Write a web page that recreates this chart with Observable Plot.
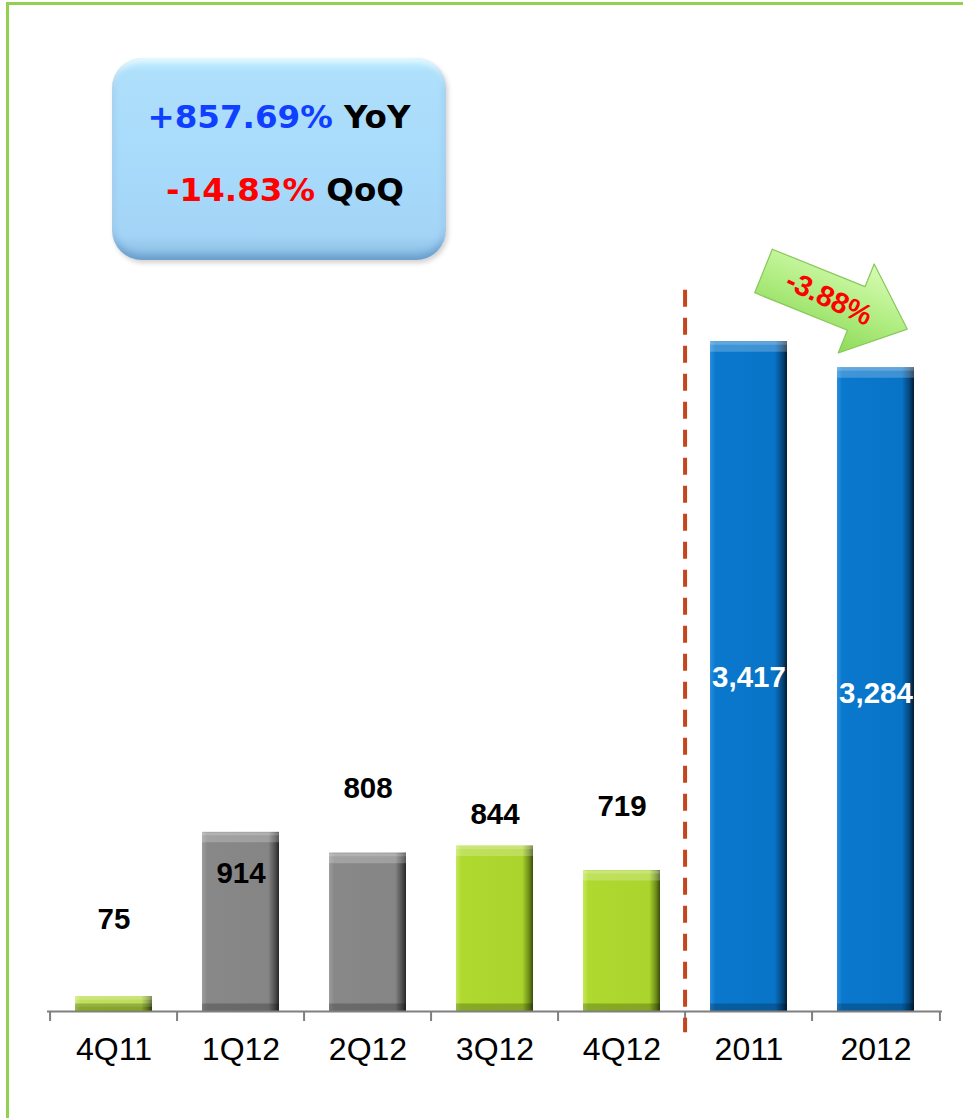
<!DOCTYPE html>
<html>
<head>
<meta charset="utf-8">
<script src="https://cdn.jsdelivr.net/npm/d3@7"></script>
<script src="https://cdn.jsdelivr.net/npm/@observablehq/plot@0.6"></script>
<style>
  html, body { margin: 0; padding: 0; background: #fff; }
  #wrap { position: relative; width: 963px; height: 1118px; overflow: hidden; font-family: "Liberation Sans", Arial, sans-serif; }
  #frame { position: absolute; left: 6px; top: 2px; width: 2000px; height: 2000px; border-top: 3px solid #92d050; border-left: 3px solid #92d050; box-sizing: border-box; }
  #chart { position: absolute; left: 0; top: 0; }
  #box { position: absolute; left: 112px; top: 58px; width: 334px; height: 202px; border-radius: 30px;
    background: linear-gradient(to bottom, #c6f2ff 0%, #aee0fc 7%, #a7d9fa 60%, #a3d4f6 88%, #86b9e0 100%);
    box-shadow: inset 0 -5px 7px rgba(50,100,160,0.35), inset 0 4px 5px rgba(255,255,255,0.6), 2px 3px 5px rgba(0,0,0,0.18);
    font-family: "DejaVu Sans", Verdana, sans-serif; font-weight: bold; font-size: 32.5px; }
  #box .l { position: absolute; left: 0; width: 100%; text-align: center; white-space: nowrap; line-height: 38px; }
  #overlay { position: absolute; left: 0; top: 0; pointer-events: none; }
</style>
</head>
<body>
<svg width="0" height="0" style="position:absolute">
  <defs>
    <linearGradient id="g-quarter" x1="0" y1="0" x2="1" y2="0">
      <stop offset="0" stop-color="#c4e95a"/>
      <stop offset="0.07" stop-color="#afd92f"/>
      <stop offset="0.86" stop-color="#abd52d"/>
      <stop offset="0.95" stop-color="#6c8c18"/>
      <stop offset="1" stop-color="#3a4c0a"/>
    </linearGradient>
    <linearGradient id="g-prior" x1="0" y1="0" x2="1" y2="0">
      <stop offset="0" stop-color="#9c9c9c"/>
      <stop offset="0.07" stop-color="#888888"/>
      <stop offset="0.86" stop-color="#858585"/>
      <stop offset="0.95" stop-color="#4e4e4e"/>
      <stop offset="1" stop-color="#262626"/>
    </linearGradient>
    <linearGradient id="g-annual" x1="0" y1="0" x2="1" y2="0">
      <stop offset="0" stop-color="#2a8ede"/>
      <stop offset="0.07" stop-color="#0a78cd"/>
      <stop offset="0.84" stop-color="#0874c8"/>
      <stop offset="0.94" stop-color="#05467c"/>
      <stop offset="1" stop-color="#021c33"/>
    </linearGradient>
    <linearGradient id="g-arrow" x1="0" y1="0" x2="0" y2="1">
      <stop offset="0" stop-color="#d8fbb4"/>
      <stop offset="0.5" stop-color="#b2ee84"/>
      <stop offset="1" stop-color="#8fd95a"/>
    </linearGradient>
  </defs>
</svg>
<div id="wrap">
  <div id="frame"></div>
  <div id="chart"></div>
  <div id="box">
    <div class="l" id="l1" style="top:40px"></div>
    <div class="l" id="l2" style="top:113px; left:6px"></div>
  </div>
  <div id="overlay"></div>
</div>
<script>
// ---------- data ----------
const categories = ["4Q11", "1Q12", "2Q12", "3Q12", "4Q12", "2011", "2012"];
const values = [75, 914, 808, 844, 719, 3417, 3284];
const groups = ["quarter", "prior", "prior", "quarter", "quarter", "annual", "annual"];
const yoyChange = "+857.69%";
const qoqChange = "-14.83%";
const annualChange = "-3.88%";

// ---------- layout / style ----------
const W = 963, H = 1118;
const mL = 47, mR = 21, mT = 31, mB = 107;
const yMax = 5000;
const pxPerUnit = (H - mT - mB) / yMax;
const step = (W - mL - mR) / categories.length;
const labelDy = [-77, 41, -65, -32, -64, 336, 326];   // pixel offsets of value labels from bar tops
const labelColor = ["#000", "#000", "#000", "#000", "#000", "#fff", "#fff"];
const tickLen = 10 / pxPerUnit;
const dashTop = 3680, dashBottom = -108;
const font = "'Liberation Sans', Arial, sans-serif";

const rows = categories.map((c, i) => ({cat: c, value: values[i], group: groups[i], dy: labelDy[i], color: labelColor[i]}));

const marks = [];
for (const g of ["quarter", "prior", "annual"]) {
  marks.push(Plot.barY(rows.filter(d => d.group === g), {x: "cat", y: "value", fill: `url(#g-${g})`}));
}
// bevel highlights
marks.push(Plot.tickY(rows, {x: "cat", y: "value", dy: 5, strokeWidth: 10, stroke: "#ffffff", strokeOpacity: 0.22}));
marks.push(Plot.tickY(rows, {x: "cat", y: "value", dy: 1.5, strokeWidth: 3, stroke: "#ffffff", strokeOpacity: 0.18}));
marks.push(Plot.tickY(rows, {x: "cat", y: 0, dy: -4, strokeWidth: 8, stroke: "#000000", strokeOpacity: 0.22}));
// baseline and category boundary ticks
marks.push(Plot.ruleY([0], {stroke: "#7f7f7f", strokeWidth: 2}));
marks.push(Plot.ruleX(categories, {x: d => d, dx: -step / 2, y1: 0, y2: -tickLen, stroke: "#7f7f7f", strokeWidth: 2}));
marks.push(Plot.ruleX(categories.slice(-1), {x: d => d, dx: step / 2, y1: 0, y2: -tickLen, stroke: "#7f7f7f", strokeWidth: 2}));
// separator between quarters and years
marks.push(Plot.ruleX(["2011"], {x: d => d, dx: -step / 2, y1: dashTop, y2: dashBottom, stroke: "#c4461e", strokeWidth: 4, strokeDasharray: "17,11"}));
// value labels
marks.push(Plot.text(rows, {
  x: "cat", y: d => d.value - d.dy / pxPerUnit, text: d => d3.format(",")(d.value),
  fill: d => d.color, fontSize: 29.5, fontWeight: "bold", fontFamily: font
}));
// category axis
marks.push(Plot.axisX({tickSize: 0, tickPadding: 26, fontSize: 32, fontFamily: font, fill: "#000", label: null}));

const chart = Plot.plot({
  width: W, height: H,
  marginLeft: mL, marginRight: mR, marginTop: mT, marginBottom: mB,
  x: {domain: categories, paddingInner: 0.39, paddingOuter: 0.195, axis: null, label: null},
  y: {domain: [0, yMax], axis: null, label: null},
  color: {type: "identity"},
  style: {fontFamily: font, background: "transparent", overflow: "visible"},
  marks
});
document.getElementById("chart").appendChild(chart);

// ---------- annotation box ----------
document.getElementById("l1").innerHTML = `<span style="color:#1040ff">${yoyChange}</span> <span style="color:#000">YoY</span>`;
document.getElementById("l2").innerHTML = `<span style="color:#ff0000">${qoqChange}</span> <span style="color:#000">QoQ</span>`;

// ---------- change arrow between annual bars ----------
const ov = d3.select("#overlay").append("svg").attr("width", W).attr("height", H);
const ag = ov.append("g").attr("transform", "translate(763.5,271) rotate(22)");
ag.append("polygon")
  .attr("points", "0,-23.5 100,-23.5 100,-48 155,0 100,48 100,23.5 0,23.5")
  .attr("fill", "url(#g-arrow)")
  .attr("stroke", "#86c85a").attr("stroke-width", 1.2)
  .attr("stroke-linejoin", "round");
ag.append("text")
  .attr("x", 71).attr("y", 0)
  .attr("transform", "rotate(3,71,0)")
  .attr("text-anchor", "middle").attr("dy", "0.35em")
  .attr("fill", "#ff0000").attr("font-size", 29).attr("font-weight", "bold")
  .attr("font-family", font)
  .text(annualChange);
</script>
</body>
</html>
